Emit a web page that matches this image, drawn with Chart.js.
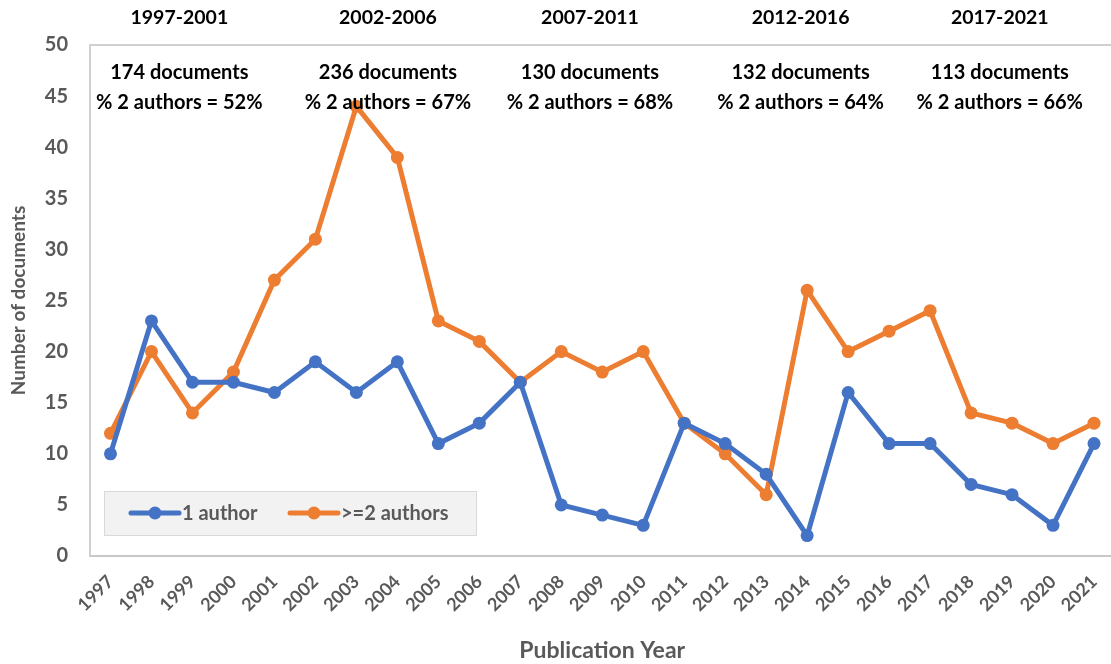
<!DOCTYPE html>
<html>
<head>
<meta charset="utf-8">
<script src="https://cdn.jsdelivr.net/npm/chart.js@4.4.1/dist/chart.umd.min.js"></script>
<style>
  html, body { margin: 0; padding: 0; background: #fff; overflow: hidden; }
  #wrap { width: 1121px; height: 664px; position: relative; }
</style>
</head>
<body>
<div id="wrap"><canvas id="grafico" width="1121" height="664"></canvas></div>
<script>
// --- datos ---
const years = ['1997','1998','1999','2000','2001','2002','2003','2004','2005','2006','2007','2008','2009',
               '2010','2011','2012','2013','2014','2015','2016','2017','2018','2019','2020','2021'];
const oneAuthor = [10, 23, 17, 17, 16, 19, 16, 19, 11, 13, 17, 5, 4, 3, 13, 11, 8, 2, 16, 11, 11, 7, 6, 3, 11];
const twoPlusAuthors = [12, 20, 14, 18, 27, 31, 44, 39, 23, 21, 17, 20, 18, 20, 13, 10, 6, 26, 20, 22, 24, 14, 13, 11, 13];
const periodos = ['1997-2001', '2002-2006', '2007-2011', '2012-2016', '2017-2021'];
const documentos = ['174 documents', '236 documents', '130 documents', '132 documents', '113 documents'];
const porcentajes = ['% 2 authors = 52%', '% 2 authors = 67%', '% 2 authors = 68%', '% 2 authors = 64%', '% 2 authors = 66%'];

const FUENTE = 'Lato, "Open Sans", sans-serif';
const GRIS = '#595959';

// posiciones (indice fraccional de categoria) para los textos de cada periodo
const centrosPeriodo = [1.68, 6.77, 11.70, 16.84, 21.70];

const anotaciones = {
  id: 'anotaciones',
  beforeDatasetsDraw(chart) {
    const { ctx, chartArea: a } = chart;
    // borde del area de trazado
    ctx.save();
    ctx.strokeStyle = '#d0d0d0';
    ctx.lineWidth = 2;
    ctx.beginPath();
    ctx.moveTo(a.right + 5, a.top);
    ctx.lineTo(a.left, a.top);
    ctx.lineTo(a.left, a.bottom);
    ctx.stroke();
    ctx.restore();
  },
  afterDatasetsDraw(chart) {
    const { ctx, scales: { x } } = chart;
    ctx.save();
    ctx.textAlign = 'center';
    ctx.textBaseline = 'middle';
    ctx.fillStyle = '#000';
    periodos.forEach((p, i) => {
      const cx = x.getPixelForValue(centrosPeriodo[i]);
      ctx.font = 'bold 19.5px ' + FUENTE;
      ctx.fillText(p, cx, 18);
      ctx.font = 'bold 20px ' + FUENTE;
      ctx.fillText(documentos[i], cx, 73);
      ctx.fillText(porcentajes[i], cx, 103);
    });

    // leyenda propia (linea + punto)
    const bx = 104, by = 491, bw = 372, bh = 44;
    ctx.fillStyle = '#f2f2f2';
    ctx.fillRect(bx, by, bw, bh);
    ctx.strokeStyle = '#d9d9d9';
    ctx.lineWidth = 1;
    ctx.strokeRect(bx + 0.5, by + 0.5, bw, bh);
    const ly = by + bh / 2;
    const inicios = [131, 290];
    chart.data.datasets.forEach((ds, i) => {
      const x0 = inicios[i];
      ctx.strokeStyle = ds.borderColor;
      ctx.lineWidth = 5;
      ctx.lineCap = 'round';
      ctx.beginPath();
      ctx.moveTo(x0, ly);
      ctx.lineTo(x0 + 48, ly);
      ctx.stroke();
      ctx.fillStyle = ds.borderColor;
      ctx.beginPath();
      ctx.arc(x0 + 24, ly, 6.5, 0, Math.PI * 2);
      ctx.fill();
      ctx.fillStyle = GRIS;
      ctx.textAlign = 'left';
      ctx.font = 'bold 20px ' + FUENTE;
      ctx.fillText(ds.label, x0 + 51, ly + 1);
    });
    ctx.restore();
  }
};

const ctx = document.getElementById('grafico').getContext('2d');
new Chart(ctx, {
  type: 'line',
  data: {
    labels: years,
    datasets: [
      {
        label: '1 author',
        data: oneAuthor,
        borderColor: '#4472C4',
        backgroundColor: '#4472C4',
        pointBackgroundColor: '#4472C4',
        pointBorderWidth: 0,
        pointRadius: 6.5,
        borderWidth: 5,
        tension: 0
      },
      {
        label: '>=2 authors',
        data: twoPlusAuthors,
        borderColor: '#ED7D31',
        backgroundColor: '#ED7D31',
        pointBackgroundColor: '#ED7D31',
        pointBorderWidth: 0,
        pointRadius: 6.5,
        borderWidth: 5,
        tension: 0
      }
    ]
  },
  options: {
    responsive: false,
    animation: false,
    layout: { padding: { top: 45, left: 0, right: 0, bottom: 0 } },
    plugins: {
      legend: { display: false },
      tooltip: { enabled: false }
    },
    scales: {
      x: {
        offset: true,
        grid: { display: false },
        border: { display: true, color: '#c8c8c8', width: 2 },
        ticks: {
          color: GRIS,
          font: { family: FUENTE, weight: 'bold', size: 18 },
          maxRotation: 45,
          minRotation: 45,
          autoSkip: false,
          padding: 7
        },
        title: {
          display: true,
          text: 'Publication Year',
          color: GRIS,
          font: { family: FUENTE, weight: 'bold', size: 23 },
          padding: { top: 0, bottom: 0 }
        },
        afterFit(scale) { scale.height = 108; }
      },
      y: {
        min: 0,
        max: 50,
        grid: { display: false },
        border: { display: false },
        ticks: {
          stepSize: 5,
          color: GRIS,
          font: { family: FUENTE, weight: 'bold', size: 20 },
          padding: 14
        },
        title: {
          display: true,
          text: 'Number of documents',
          color: GRIS,
          font: { family: FUENTE, weight: 'bold', size: 19 },
          padding: { top: 7, bottom: 0 }
        },
        afterFit(scale) { scale.width = 90; }
      }
    }
  },
  plugins: [anotaciones]
});
</script>
</body>
</html>
